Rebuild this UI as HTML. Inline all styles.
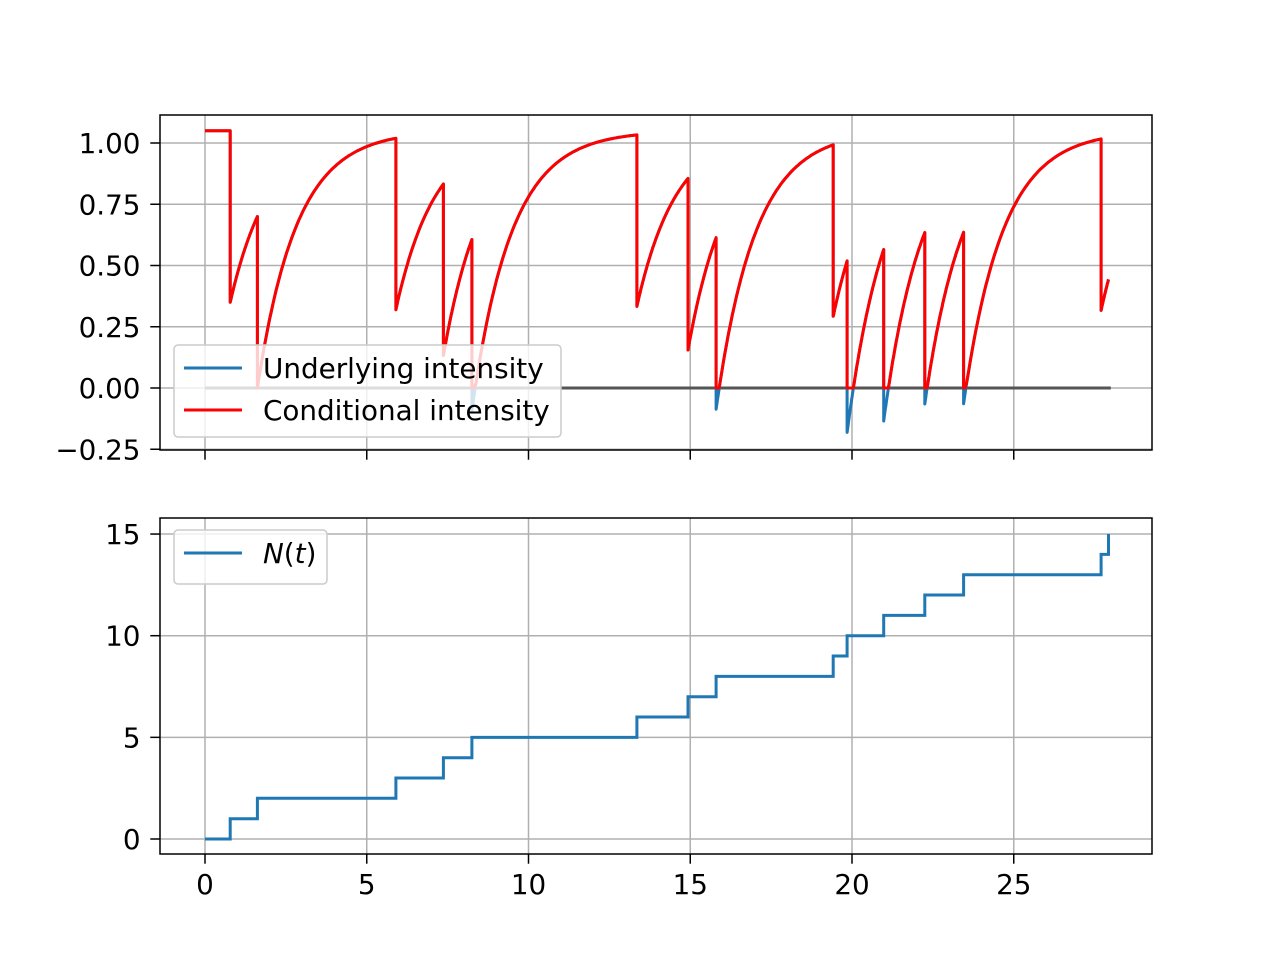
<!DOCTYPE html>
<html><head><meta charset="utf-8"><style>
body{margin:0;background:#fff}
svg text{font-family:"DejaVu Sans","Liberation Sans",sans-serif;font-size:27.8px;fill:#000}
</style></head><body>
<svg id="fig" width="1280" height="960" xmlns="http://www.w3.org/2000/svg"></svg>
<script>
const eventTimes=[0.78,1.62,5.9,7.37,8.25,13.35,14.93,15.8,19.42,19.85,20.98,22.25,23.45,27.7,27.93];
const baseRate=[1.05];
const jumpSize=[0.7];
const decayRate=[0.825];
const xTicks=[0,5,10,15,20,25];
const topYTicks=[-0.25,0,0.25,0.5,0.75,1.0];
const topYLabels=["\u22120.25","0.00","0.25","0.50","0.75","1.00"];
const botYTicks=[0,5,10,15];
const botYLabels=["0","5","10","15"];

const NS="http://www.w3.org/2000/svg";
const svg=document.getElementById('fig');
function mk(tag,attrs,parent){const e=document.createElementNS(NS,tag);for(const k in attrs)e.setAttribute(k,attrs[k]);(parent||svg).appendChild(e);return e;}
const X=t=>205+t*32.35;
const Ytop=v=>388-v*245;
const Ybot=v=>839-v*20.33;
const L=160,R=1152;

function axes(top,bottom,yt,ylabels,yf,showX,name){
  const g=mk('g',{});
  
  
  xTicks.forEach(t=>{mk('line',{x1:X(t),x2:X(t),y1:top,y2:bottom,stroke:'#b0b0b0','stroke-width':1.5},g);
    mk('line',{x1:X(t),x2:X(t),y1:bottom,y2:bottom+9.7,stroke:'#000','stroke-width':1.5},g);
    if(showX){const tx=mk('text',{x:X(t),y:bottom+40,'text-anchor':'middle'},g);tx.textContent=t;
      }});
  yt.forEach((v,i)=>{mk('line',{x1:L,x2:R,y1:yf(v),y2:yf(v),stroke:'#b0b0b0','stroke-width':1.5},g);
    mk('line',{x1:L-9.7,x2:L,y1:yf(v),y2:yf(v),stroke:'#000','stroke-width':1.5},g);
    const tx=mk('text',{x:L-19.5,y:yf(v)+10,'text-anchor':'end'},g);tx.textContent=ylabels[i];
    });
  return g;
}
axes(115,450,topYTicks,topYLabels,Ytop,false,'intensity-axes');
axes(518,854,botYTicks,botYLabels,Ybot,true,'count-axes');

const tEnd=eventTimes[eventTimes.length-1];
const used=eventTimes.slice(0,-1);
function lam(t,incl){let v=baseRate[0];used.forEach(ti=>{if(ti<t||(incl&&ti===t))v-=jumpSize[0]*Math.exp(-decayRate[0]*(t-ti));});return v;}
let pts=[];
let bounds=[0,...used,tEnd];
for(let k=0;k<bounds.length-1;k++){
  const a=bounds[k],b=bounds[k+1];const n=80;
  for(let i=0;i<=n;i++){const t=a+(b-a)*i/n;pts.push([t,lam(t,i<n?true:false)]);}
}
const under=pts.map(p=>X(p[0]).toFixed(1)+','+Ytop(p[1]).toFixed(1)).join(' ');
const cond=pts.map(p=>X(p[0]).toFixed(1)+','+Ytop(Math.max(0,p[1])).toFixed(1)).join(' ');
const zl=mk('line',{x1:X(0),x2:X(28),y1:Ytop(0),y2:Ytop(0),stroke:'#555','stroke-width':3});

const ul=mk('polyline',{points:under,fill:'none',stroke:'#1f77b4','stroke-width':3,'stroke-linejoin':'round'});

const cl=mk('polyline',{points:cond,fill:'none',stroke:'#ff0000','stroke-width':3,'stroke-linejoin':'round'});


let sp=[[0,0]];
eventTimes.forEach((t,i)=>{sp.push([t,i]);sp.push([t,i+1]);});
const nl=mk('polyline',{points:sp.map(p=>X(p[0]).toFixed(1)+','+Ybot(p[1]).toFixed(1)).join(' '),fill:'none',stroke:'#1f77b4','stroke-width':3});


[[115,450],[518,854]].forEach(([a,b])=>{const r=mk('rect',{x:L,y:a,width:R-L,height:b-a,fill:'none',stroke:'#000','stroke-width':1.5});
  });

function legend(x,y,w,h,items,name){
  const g=mk('g',{});
  mk('rect',{x,y,width:w,height:h,rx:4,fill:'#fff','fill-opacity':0.8,stroke:'#ccc','stroke-width':1.5},g);
  items.forEach((it,i)=>{const cy=y+23+i*42;
    mk('line',{x1:x+10,x2:x+68,y1:cy,y2:cy,stroke:it[1],'stroke-width':3},g);
    const t=mk('text',{x:x+89,y:cy+10},g);t.innerHTML=it[0];
    });
}
legend(174,345,387,92,[["Underlying intensity","#1f77b4"],["Conditional intensity","#ff0000"]],'intensity-legend');
legend(174,530,153,54,[['<tspan font-style="italic">N</tspan>(<tspan font-style="italic">t</tspan>)',"#1f77b4"]],'count-legend');
</script>
</body></html>
